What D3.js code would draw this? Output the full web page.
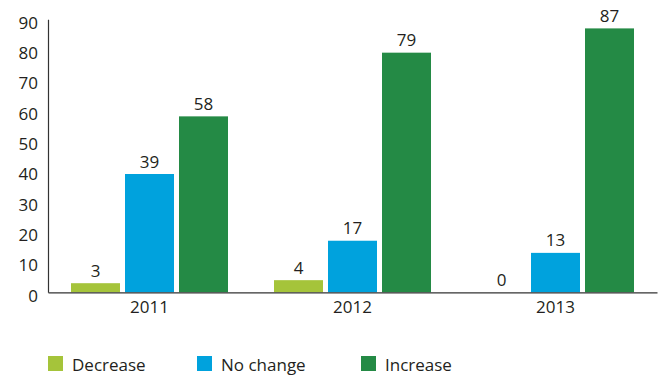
<!DOCTYPE html>
<html>
<head>
<meta charset="utf-8">
<script src="https://cdn.jsdelivr.net/npm/d3@7"></script>
<style>
  html, body { margin: 0; padding: 0; background: #fff; }
  svg { display: block; font-family: "Open Sans", "Noto Sans", sans-serif; }
  text { fill: #231f20; }
</style>
</head>
<body>
<svg id="chart" width="659" height="376"></svg>
<script>
// Survey responses by year
const years = ["2011", "2012", "2013"];
const seriesNames = ["Decrease", "No change", "Increase"];
const decrease = [3, 4, 0];
const noChange = [39, 17, 13];
const increase = [58, 79, 87];
const yTicks = [0, 10, 20, 30, 40, 50, 60, 70, 80, 90];
const colors = ["#a5c43a", "#00a2dd", "#248a45"];
const fontSize = 17;

const seriesValues = [decrease, noChange, increase];
const rows = years.map((yr, i) => ({
  year: yr,
  values: seriesNames.map((name, s) => ({ name, value: seriesValues[s][i] }))
}));

const svg = d3.select("#chart");
const plotLeft = 48, plotRight = 657, plotTop = 19.3, plotBottom = 292.3;

const x = d3.scaleBand().domain(years).range([plotLeft, plotRight]).paddingInner(0).paddingOuter(0);
const barW = 49, gap = 5;
const groupW = barW * 3 + gap * 2;
const xs = d3.scaleBand().domain(seriesNames).range([0, groupW]).paddingInner(gap / (barW + gap));

const y = d3.scaleLinear().domain([0, 90]).range([plotBottom, plotTop]);

// Y axis
const yAxis = svg.append("g").attr("transform", `translate(${plotLeft},0)`)
  .call(d3.axisLeft(y).tickValues(yTicks).tickSize(0).tickPadding(10));
yAxis.select(".domain").attr("stroke", "#333").attr("stroke-width", 1.2);
yAxis.selectAll("text")
  .attr("font-size", fontSize)
  .attr("font-family", "Open Sans, Noto Sans, sans-serif")
  .attr("fill", "#231f20")
  .attr("dy", "0.53em");

// Bars
const groups = svg.append("g").selectAll("g").data(rows).join("g")
  .attr("transform", d => `translate(${x(d.year) + (x.bandwidth() - groupW) / 2},0)`);

groups.selectAll("rect").data(d => d.values).join("rect")
  .attr("x", d => xs(d.name))
  .attr("width", xs.bandwidth())
  .attr("y", d => y(d.value))
  .attr("height", d => y(0) - y(d.value))
  .attr("fill", (d, i) => colors[i]);

groups.selectAll("text.val").data(d => d.values).join("text")
  .attr("class", "val")
  .attr("x", d => xs(d.name) + xs.bandwidth() / 2)
  .attr("y", d => y(d.value) - 6.5)
  .attr("text-anchor", "middle")
  .attr("font-size", fontSize)
  .text(d => d.value);

// X axis
const xAxis = svg.append("g").attr("transform", `translate(0,${plotBottom})`)
  .call(d3.axisBottom(x).tickSize(0).tickPadding(9));
xAxis.select(".domain").attr("stroke", "#333").attr("stroke-width", 1.2);
xAxis.selectAll("text")
  .attr("font-size", fontSize)
  .attr("font-family", "Open Sans, Noto Sans, sans-serif")
  .attr("fill", "#231f20");

// Legend
const legendX = [48, 197, 361];
const legend = svg.append("g").selectAll("g").data(seriesNames).join("g")
  .attr("transform", (d, i) => `translate(${legendX[i]},356)`);
legend.append("rect").attr("width", 15).attr("height", 15).attr("fill", (d, i) => colors[i]);
legend.append("text").attr("x", 24).attr("y", 14.5).attr("font-size", fontSize).text(d => d);
</script>
</body>
</html>
